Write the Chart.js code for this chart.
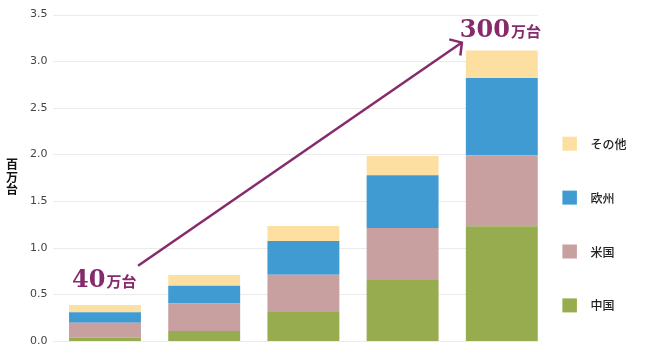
<!DOCTYPE html>
<html><head><meta charset="utf-8">
<script src="https://cdn.jsdelivr.net/npm/chart.js@4/dist/chart.umd.min.js"></script>
<style>html,body{margin:0;padding:0;background:#fff;}#wrap{width:655px;height:356px;position:relative;}</style>
</head><body><div id="wrap"><canvas id="c"></canvas></div>
<script>
// ---- data ----
const categories = ['1', '2', '3', '4', '5'];
const seriesNames = ['中国', '米国', '欧州', 'その他'];
const china  = [0.035, 0.107, 0.31, 0.653, 1.231];
const usa    = [0.161, 0.296, 0.40, 0.56, 0.759];
const europe = [0.111, 0.189, 0.361, 0.564, 0.83];
const other  = [0.078, 0.115, 0.163, 0.207, 0.296];
const yTickValues = [0, 0.5, 1, 1.5, 2, 2.5, 3, 3.5];
const yTitle = ['百', '万', '台'];
const noteStart = { num: '40', unit: '万台', value: 0.58 };
const noteEnd = { num: '300', unit: '万台', value: 3.265 };
const arrowFromValue = 0.806;
const arrowToValue = 3.2;

const colors = ['#97ab4f', '#c8a0a0', '#419bd3', '#fddfa1'];
const purple = '#862a6c';

const seriesValues = [china, usa, europe, other];
const datasets = seriesNames.map((n, i) => ({
  label: n,
  data: seriesValues[i],
  backgroundColor: colors[i],
  borderWidth: 0,
  barPercentage: 0.725,
  categoryPercentage: 1
}));

function barOf(chart, di, idx) {
  return chart.getDatasetMeta(di).data[idx];
}

const gridPlugin = {
  id: 'gridPlugin',
  beforeDatasetsDraw(chart) {
    const { ctx, chartArea, scales: { y } } = chart;
    const last = barOf(chart, datasets.length - 1, categories.length - 1);
    const right = last.x + last.width / 2;
    ctx.save();
    ctx.strokeStyle = '#ebebeb';
    ctx.lineWidth = 1;
    yTickValues.forEach(v => {
      const py = Math.round(y.getPixelForValue(v)) + 0.5;
      ctx.beginPath();
      ctx.moveTo(chartArea.left - 2, py);
      ctx.lineTo(right, py);
      ctx.stroke();
    });
    ctx.restore();
  }
};

const overlayPlugin = {
  id: 'overlayPlugin',
  afterDatasetsDraw(chart) {
    const { ctx, chartArea, scales: { y } } = chart;
    ctx.save();
    // y-axis title (stacked vertical characters)
    ctx.fillStyle = '#111';
    ctx.font = 'bold 12px "Noto Sans CJK JP"';
    ctx.textAlign = 'center';
    ctx.textBaseline = 'middle';
    const midY = (chartArea.top + chartArea.bottom) / 2 - 0.8;
    yTitle.forEach((ch, i) => {
      ctx.fillText(ch, 12, midY + (i - 1) * 12.6);
    });

    // legend (reversed order)
    ctx.font = '500 12px "Noto Sans CJK JP"';
    ctx.textAlign = 'left';
    const lx = chartArea.right + 11;
    const order = datasets.map((d, i) => i).reverse();
    const step = 53.9;
    const top0 = 136.7;
    order.forEach((di, k) => {
      const t = top0 + k * step;
      ctx.fillStyle = colors[di];
      ctx.fillRect(lx, t, 14.5, 14);
      ctx.fillStyle = '#222';
      ctx.fillText(seriesNames[di], lx + 28, t + 7.5);
    });

    // arrow
    const b0 = barOf(chart, 0, 0);
    const b4 = barOf(chart, 0, categories.length - 1);
    const x1 = b0.x + b0.width * 0.46, y1 = y.getPixelForValue(arrowFromValue);
    const x2 = b4.x - b4.width * 0.555, y2 = y.getPixelForValue(arrowToValue);
    ctx.strokeStyle = purple;
    ctx.lineWidth = 2.5;
    ctx.lineCap = 'butt';
    ctx.beginPath();
    ctx.moveTo(x1, y1);
    ctx.lineTo(x2, y2);
    ctx.stroke();
    const ang = Math.atan2(y1 - y2, x1 - x2);
    const arm = 13, spread = 0.85;
    ctx.beginPath();
    ctx.moveTo(x2 + arm * Math.cos(ang - spread), y2 + arm * Math.sin(ang - spread));
    ctx.lineTo(x2, y2);
    ctx.lineTo(x2 + arm * Math.cos(ang + spread), y2 + arm * Math.sin(ang + spread));
    ctx.stroke();

    // notes
    function note(n, x, v) {
      const by = y.getPixelForValue(v);
      ctx.fillStyle = purple;
      ctx.textBaseline = 'alphabetic';
      ctx.textAlign = 'left';
      ctx.font = 'bold 24px "DejaVu Serif"';
      ctx.fillText(n.num, x, by);
      const w = ctx.measureText(n.num).width;
      ctx.font = 'bold 15px "Noto Sans CJK JP"';
      ctx.fillText(n.unit, x + w + 1, by);
    }
    note(noteStart, b0.x - b0.width / 2 + 3, noteStart.value);
    note(noteEnd, b4.x - b4.width / 2 - 6, noteEnd.value);
    ctx.restore();
  }
};

new Chart(document.getElementById('c'), {
  type: 'bar',
  data: { labels: categories, datasets },
  options: {
    responsive: true,
    maintainAspectRatio: false,
    animation: false,
    layout: { padding: { left: 0, right: 103.6, top: 14, bottom: 15 } },
    plugins: { legend: { display: false }, tooltip: { enabled: false } },
    scales: {
      x: { stacked: true, display: false },
      y: {
        stacked: true,
        min: 0, max: 3.5,
        afterFit(s) { s.width = 55.4; },
        afterBuildTicks(s) { s.ticks = yTickValues.map(v => ({ value: v })); },
        ticks: {
          padding: 8,
          color: '#444',
          font: { family: 'DejaVu Sans', size: 11 },
          callback: v => Number(v).toFixed(1)
        },
        grid: { display: false, drawTicks: false },
        border: { display: false }
      }
    }
  },
  plugins: [gridPlugin, overlayPlugin]
});
</script></body></html>
